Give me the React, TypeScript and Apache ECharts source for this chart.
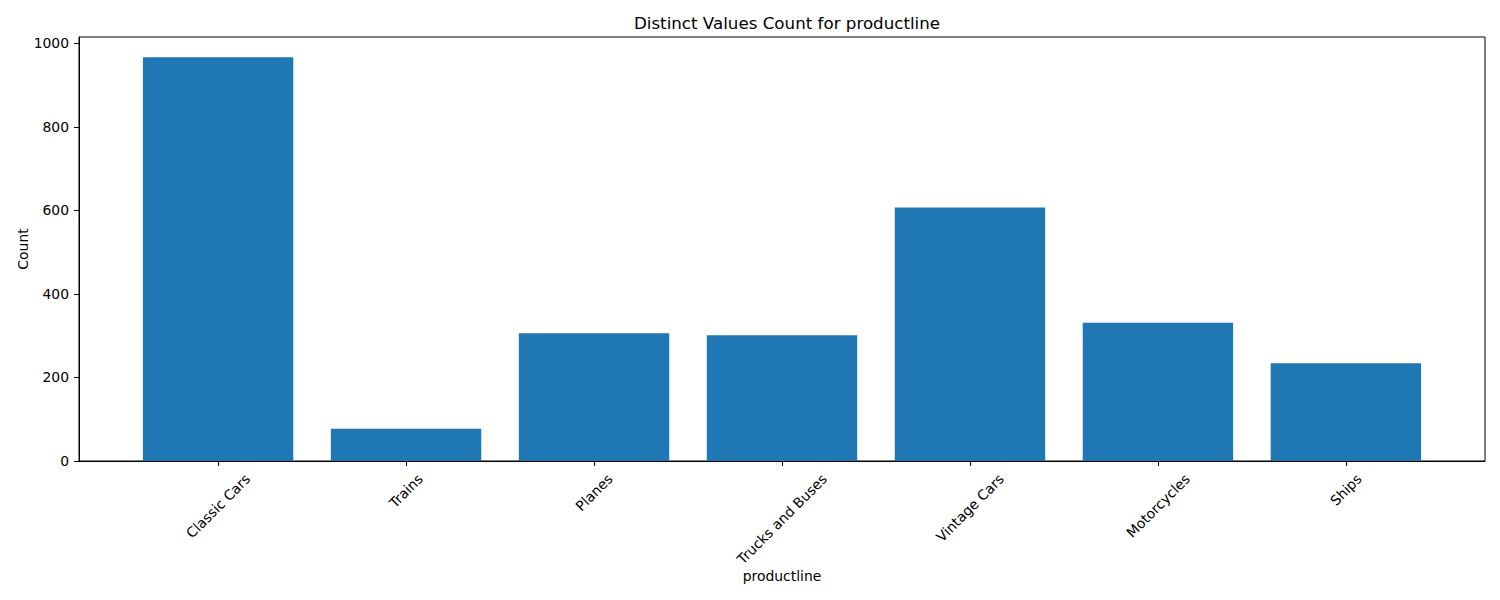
import React, { useEffect, useRef } from "react";
import * as echarts from "echarts";

const categories = [
  "Classic Cars",
  "Trains",
  "Planes",
  "Trucks and Buses",
  "Vintage Cars",
  "Motorcycles",
  "Ships",
];
const counts = [967, 77, 306, 301, 607, 331, 234];
const yTicks = [0, 200, 400, 600, 800, 1000];

const FONT = "DejaVu Sans";
const FS = 13.9;

function measure(text: string): number {
  const c = document.createElement("canvas");
  const ctx = c.getContext("2d");
  if (!ctx) return text.length * 8;
  ctx.font = `${FS}px "${FONT}"`;
  return ctx.measureText(text).width;
}

export default function App() {
  const ref = useRef<HTMLDivElement>(null);
  useEffect(() => {
    if (!ref.current) return;
    const chart = echarts.init(ref.current, null, { renderer: "svg" });
    const xIdx = categories.map((_, i) => i);
    const maxCount = Math.max(...counts);
    // matplotlib-style centered 45deg labels: per-label padding shifts the glyph box
    const h = 16.2;
    const pad = 9.7;
    const rich: Record<string, any> = {};
    categories.forEach((name, i) => {
      const w = measure(name);
      const p = Math.SQRT2 * pad + (w + h) / 2;
      rich["l" + i] = {
        fontFamily: FONT,
        fontSize: FS,
        color: "#000",
        padding: [p, p, 0, 0],
      };
    });
    chart.setOption({
      animation: false,
      backgroundColor: "#ffffff",
      textStyle: { fontFamily: FONT },
      title: {
        text: "Distinct Values Count for productline",
        left: 782,
        top: 9,
        textAlign: "center",
        textStyle: { fontFamily: FONT, fontSize: 16.7, fontWeight: "normal", color: "#000" },
      },
      grid: {
        left: 79,
        right: 15,
        top: 37,
        bottom: 139,
        show: true,
        borderColor: "#000",
        borderWidth: 1,
        backgroundColor: "transparent",
        containLabel: false,
        outerBoundsMode: "none",
      },
      xAxis: {
        type: "value",
        min: -0.74,
        max: categories.length - 1 + 0.74,
        name: "productline",
        nameLocation: "middle",
        nameGap: 108,
        nameMoveOverlap: false,
        nameTextStyle: { fontFamily: FONT, fontSize: FS, color: "#000" },
        axisLine: { show: true, onZero: false, lineStyle: { color: "#000", width: 1 } },
        axisTick: { show: true, length: 5, customValues: xIdx, lineStyle: { color: "#000" } },
        splitLine: { show: false },
        axisLabel: {
          customValues: xIdx,
          rotate: 45,
          align: "center",
          verticalAlign: "middle",
          margin: 0,
          fontFamily: FONT,
          fontSize: FS,
          color: "#000",
          rich,
          formatter: (v: number) => {
            const i = Math.round(v);
            return categories[i] !== undefined ? `{l${i}|${categories[i]}}` : "";
          },
        },
      },
      yAxis: {
        type: "value",
        min: 0,
        max: maxCount * 1.05,
        name: "Count",
        nameLocation: "middle",
        nameGap: 49,
        nameMoveOverlap: false,
        nameTextStyle: { fontFamily: FONT, fontSize: FS, color: "#000" },
        axisLine: { show: true, onZero: false, lineStyle: { color: "#000", width: 1 } },
        axisTick: { show: true, length: 5, customValues: yTicks, lineStyle: { color: "#000" } },
        splitLine: { show: false },
        axisLabel: {
          customValues: yTicks,
          margin: 10,
          fontFamily: FONT,
          fontSize: FS,
          color: "#000",
          formatter: (v: number) => String(v),
        },
      },
      series: [
        {
          type: "bar",
          data: counts.map((c, i) => [i, c]),
          barWidth: 150.4,
          itemStyle: { color: "#1f77b4" },
        },
      ],
    });
    return () => chart.dispose();
  }, []);
  return (
    <div
      ref={ref}
      style={{ position: "fixed", left: 0, top: 0, width: 1500, height: 600 }}
    />
  );
}
